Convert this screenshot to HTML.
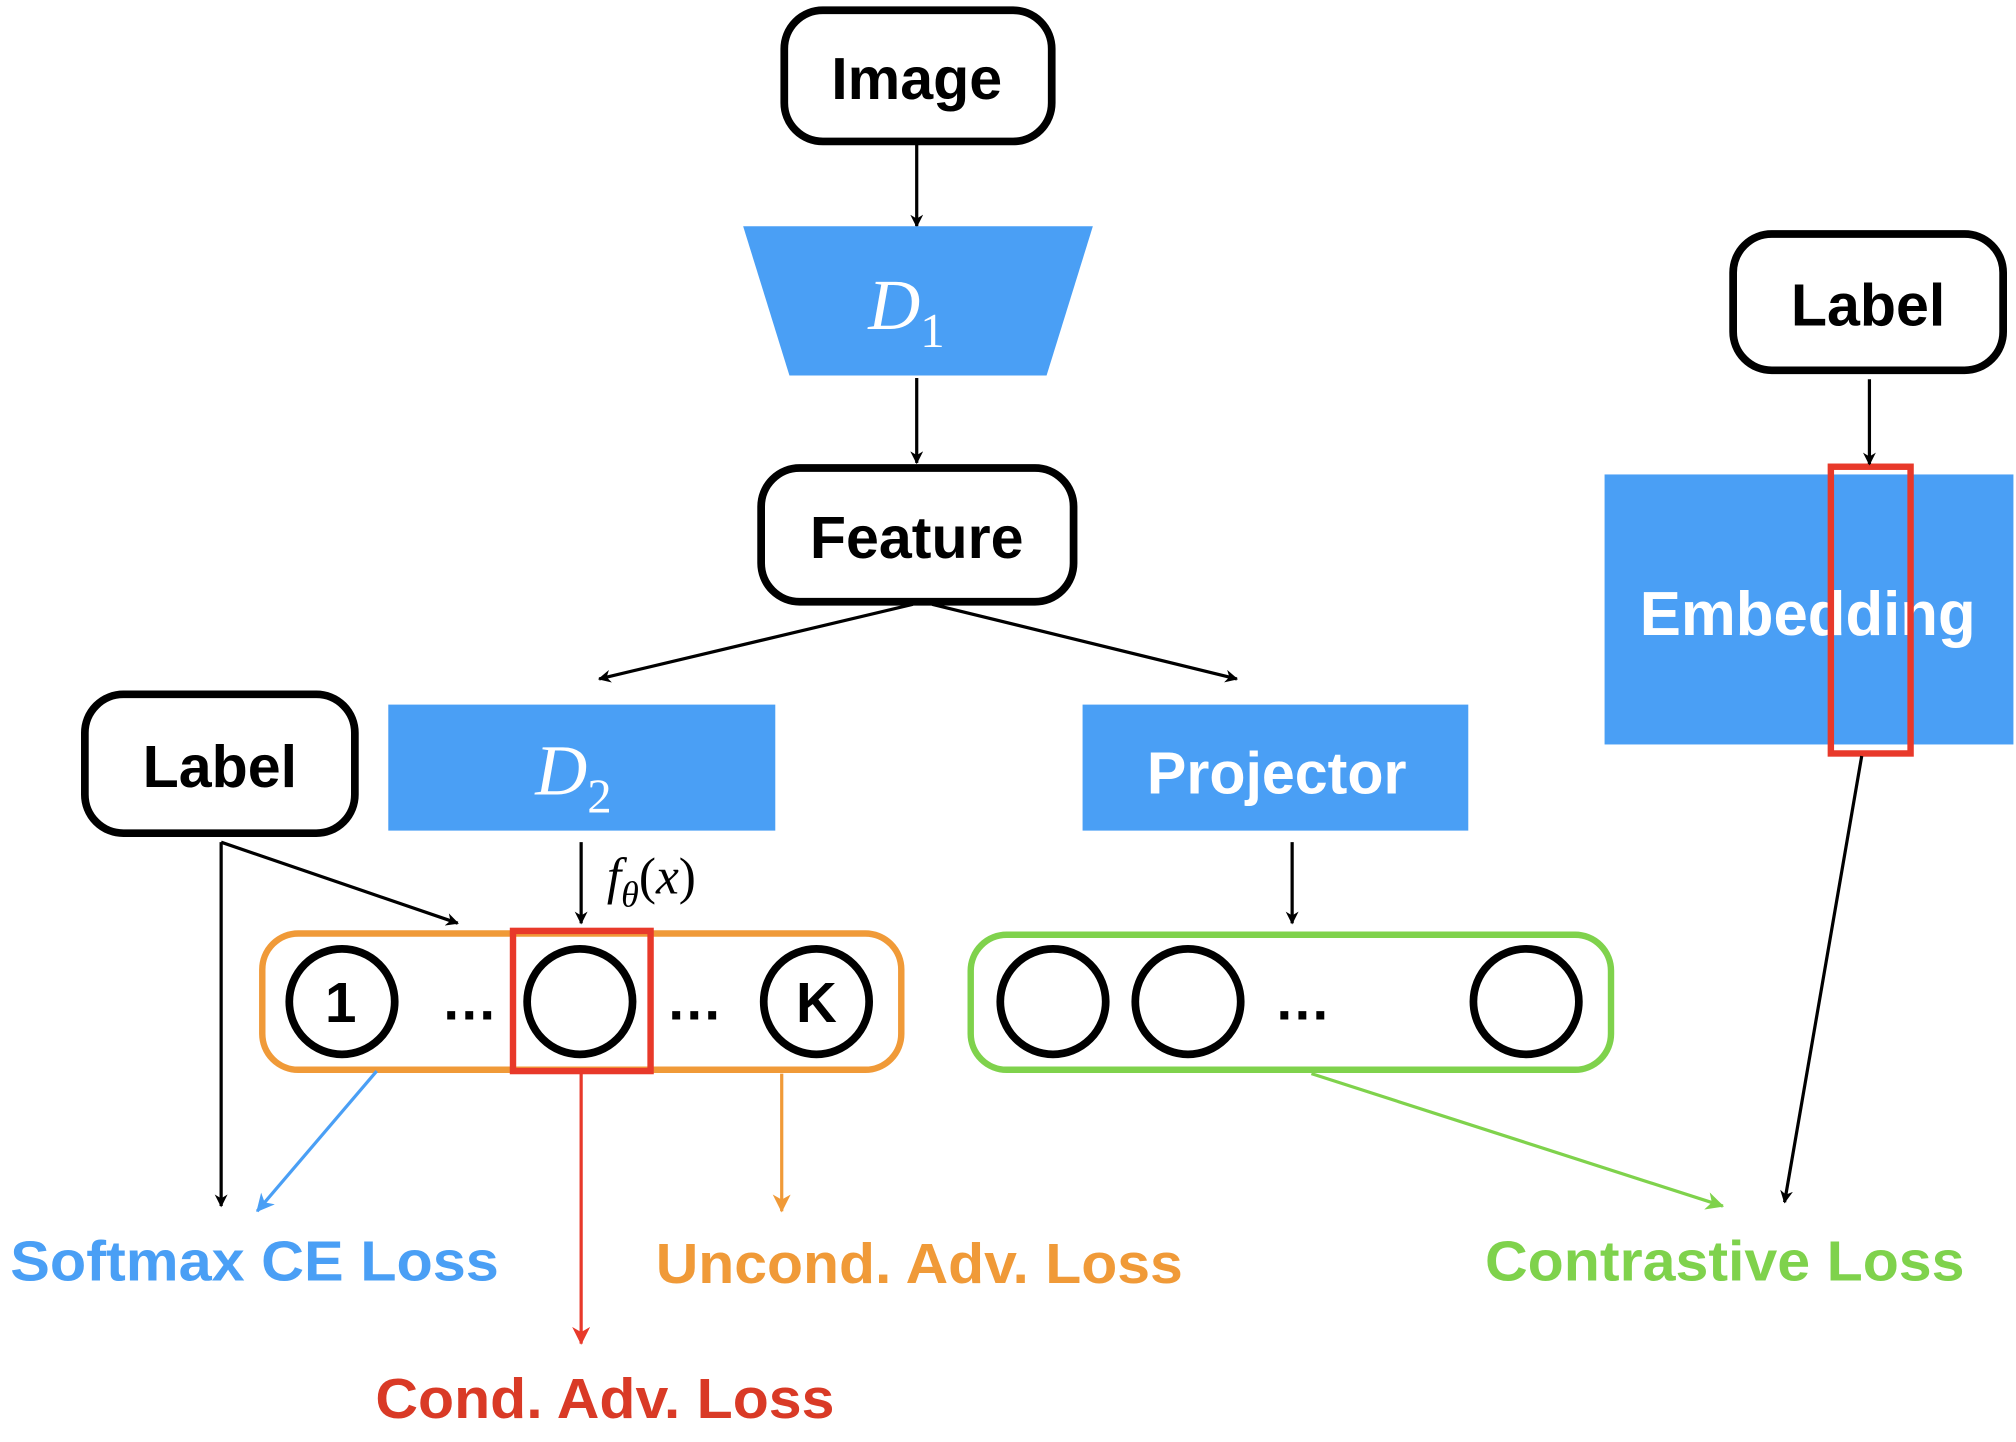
<!DOCTYPE html>
<html><head><meta charset="utf-8"><style>
html,body{margin:0;padding:0;background:#fff;}
svg{display:block;}
text{font-family:"Liberation Sans",sans-serif;font-weight:bold;}
</style></head><body>
<svg width="2016" height="1442" viewBox="0 0 1568 1121.5" preserveAspectRatio="none" xmlns="http://www.w3.org/2000/svg">
<defs>
<marker id="ak" markerWidth="10" markerHeight="10" refX="9" refY="5" orient="auto" markerUnits="userSpaceOnUse"><path d="M0,0 L10,5 L0,10 L3,5 z" fill="#000"/></marker>
<marker id="ab" markerWidth="14" markerHeight="14" refX="13" refY="7" orient="auto" markerUnits="userSpaceOnUse"><path d="M0,0 L14,7 L0,14 L4,7 z" fill="#4a9ff5"/></marker>
<marker id="ar" markerWidth="14" markerHeight="14" refX="13" refY="7" orient="auto" markerUnits="userSpaceOnUse"><path d="M0,0 L14,7 L0,14 L4,7 z" fill="#e8392a"/></marker>
<marker id="ao" markerWidth="14" markerHeight="14" refX="13" refY="7" orient="auto" markerUnits="userSpaceOnUse"><path d="M0,0 L14,7 L0,14 L4,7 z" fill="#f09a38"/></marker>
<marker id="ag" markerWidth="14" markerHeight="14" refX="13" refY="7" orient="auto" markerUnits="userSpaceOnUse"><path d="M0,0 L14,7 L0,14 L4,7 z" fill="#7fd24c"/></marker>
</defs>

<!-- Image -->
<rect x="610" y="8" width="208" height="102" rx="30" fill="#fff" stroke="#000" stroke-width="6"/>
<text x="713" y="77" font-size="46" text-anchor="middle">Image</text>
<line x1="713" y1="112" x2="713" y2="176" stroke="#000" stroke-width="2.5" marker-end="url(#ak)"/>

<!-- D1 -->
<polygon points="578,176 850,176 814,292 614,292" fill="#4a9ff5"/>
<text x="705" y="256" font-size="56" fill="#fff" font-family="Liberation Serif,serif" font-style="italic" font-weight="normal" text-anchor="middle" style="font-family:'Liberation Serif',serif;font-weight:normal">D<tspan font-size="38" dy="14" font-style="normal">1</tspan></text>
<line x1="713" y1="294" x2="713" y2="360" stroke="#000" stroke-width="2.5" marker-end="url(#ak)"/>

<!-- Feature -->
<rect x="592" y="364" width="243" height="104" rx="30" fill="#fff" stroke="#000" stroke-width="6"/>
<text x="713" y="434" font-size="46" text-anchor="middle">Feature</text>
<line x1="710" y1="470" x2="466" y2="528" stroke="#000" stroke-width="2.5" marker-end="url(#ak)"/>
<line x1="725" y1="470" x2="962" y2="528" stroke="#000" stroke-width="2.5" marker-end="url(#ak)"/>

<!-- D2 -->
<rect x="302" y="548" width="301" height="98" fill="#4a9ff5"/>
<text x="446" y="618" font-size="56" fill="#fff" font-style="italic" text-anchor="middle" style="font-family:'Liberation Serif',serif;font-weight:normal">D<tspan font-size="38" dy="14" font-style="normal">2</tspan></text>

<!-- Projector -->
<rect x="842" y="548" width="300" height="98" fill="#4a9ff5"/>
<text x="993" y="617" font-size="46" fill="#fff" text-anchor="middle">Projector</text>

<!-- Left Label -->
<rect x="66" y="540" width="210" height="108" rx="30" fill="#fff" stroke="#000" stroke-width="6"/>
<text x="171" y="612" font-size="46" text-anchor="middle">Label</text>

<!-- Right Label -->
<rect x="1348" y="182" width="210" height="106" rx="30" fill="#fff" stroke="#000" stroke-width="6"/>
<text x="1453" y="253" font-size="46" text-anchor="middle">Label</text>

<!-- Embedding -->
<rect x="1248" y="369" width="318" height="210" fill="#4a9ff5"/>
<text x="1406" y="494" font-size="48" fill="#fff" text-anchor="middle">Embedding</text>
<rect x="1424" y="363" width="62" height="223" fill="none" stroke="#e8392a" stroke-width="5"/>
<line x1="1454" y1="295" x2="1454" y2="361" stroke="#000" stroke-width="2.5" marker-end="url(#ak)"/>
<line x1="1448" y1="588" x2="1388" y2="935" stroke="#000" stroke-width="2.5" marker-end="url(#ak)"/>

<!-- f theta -->
<line x1="452" y1="655" x2="452" y2="718" stroke="#000" stroke-width="2.5" marker-end="url(#ak)"/>
<text x="472" y="695" font-size="40" font-style="italic" style="font-family:'Liberation Serif',serif;font-weight:normal">f<tspan font-size="28" dy="10">θ</tspan><tspan dy="-10" font-style="normal">(</tspan>x<tspan font-style="normal">)</tspan></text>

<!-- Orange group -->
<rect x="204" y="726" width="497" height="106" rx="28" fill="none" stroke="#f09a38" stroke-width="5"/>
<circle cx="266" cy="779" r="41" fill="#fff" stroke="#000" stroke-width="6"/>
<text x="265" y="795" font-size="44" text-anchor="middle">1</text>
<circle cx="451" cy="779" r="41" fill="#fff" stroke="#000" stroke-width="6"/>
<circle cx="635" cy="779" r="41" fill="#fff" stroke="#000" stroke-width="6"/>
<text x="635" y="795" font-size="44" text-anchor="middle">K</text>
<text x="365" y="793" font-size="44" text-anchor="middle">…</text>
<text x="540" y="793" font-size="44" text-anchor="middle">…</text>
<rect x="399" y="724" width="107" height="109" fill="none" stroke="#e8392a" stroke-width="5"/>

<!-- label arrows -->
<line x1="172" y1="655" x2="172" y2="938" stroke="#000" stroke-width="2.5" marker-end="url(#ak)"/>
<line x1="172" y1="655" x2="356" y2="718" stroke="#000" stroke-width="2.5" marker-end="url(#ak)"/>

<!-- loss arrows -->
<line x1="293" y1="833" x2="200" y2="942" stroke="#4a9ff5" stroke-width="2.5" marker-end="url(#ab)"/>
<line x1="452" y1="835" x2="452" y2="1045" stroke="#e8392a" stroke-width="2.5" marker-end="url(#ar)"/>
<line x1="608" y1="835" x2="608" y2="942" stroke="#f09a38" stroke-width="2.5" marker-end="url(#ao)"/>

<!-- Green group -->
<line x1="1005" y1="655" x2="1005" y2="718" stroke="#000" stroke-width="2.5" marker-end="url(#ak)"/>
<rect x="755" y="727" width="498" height="105" rx="28" fill="none" stroke="#7fd24c" stroke-width="5"/>
<circle cx="819" cy="779" r="41" fill="#fff" stroke="#000" stroke-width="6"/>
<circle cx="924" cy="779" r="41" fill="#fff" stroke="#000" stroke-width="6"/>
<circle cx="1187" cy="779" r="41" fill="#fff" stroke="#000" stroke-width="6"/>
<text x="1013" y="793" font-size="44" text-anchor="middle">…</text>
<line x1="1020" y1="835" x2="1340" y2="938" stroke="#7fd24c" stroke-width="2.5" marker-end="url(#ag)"/>

<!-- Loss labels -->
<text x="8" y="996" font-size="44" fill="#4a9ff5" textLength="380" lengthAdjust="spacingAndGlyphs">Softmax CE Loss</text>
<text x="510" y="998" font-size="44" fill="#f09a38" textLength="410" lengthAdjust="spacingAndGlyphs">Uncond. Adv. Loss</text>
<text x="292" y="1103" font-size="44" fill="#d93a26" textLength="357" lengthAdjust="spacingAndGlyphs">Cond. Adv. Loss</text>
<text x="1155" y="996" font-size="44" fill="#7fd24c" textLength="373" lengthAdjust="spacingAndGlyphs">Contrastive Loss</text>
</svg>
</body></html>
